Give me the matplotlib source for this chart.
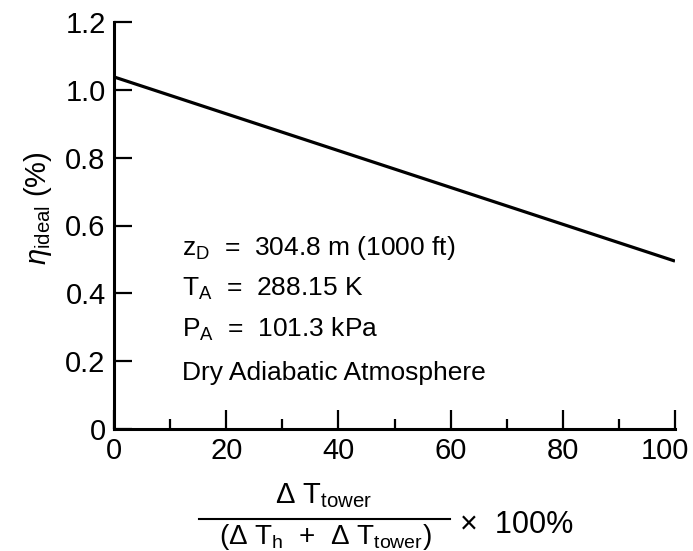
import matplotlib
matplotlib.use("Agg")
import matplotlib.pyplot as plt
from matplotlib.lines import Line2D
from matplotlib.transforms import ScaledTranslation

plt.rcParams['font.family'] = ['Liberation Sans', 'DejaVu Sans']
plt.rcParams['mathtext.fontset'] = 'custom'
plt.rcParams['mathtext.rm'] = 'Liberation Sans'
plt.rcParams['mathtext.it'] = 'Liberation Sans:italic'
plt.rcParams['mathtext.bf'] = 'Liberation Sans:bold'

# Data
x_vals = [0, 100]
eta_vals = [1.038, 0.495]
x_ticks = [0, 20, 40, 60, 80, 100]
x_minor = [10, 30, 50, 70, 90]
y_ticks = [0, 0.2, 0.4, 0.6, 0.8, 1.0, 1.2]
y_labels = ["0", "0.2", "0.4", "0.6", "0.8", "1.0", "1.2"]
notes = [r"z$_\mathrm{D}$  =  304.8 m (1000 ft)",
         r"T$_\mathrm{A}$  =  288.15 K",
         r"P$_\mathrm{A}$  =  101.3 kPa",
         "Dry Adiabatic Atmosphere"]

W, H = 693, 551
fig = plt.figure(figsize=(W / 100, H / 100), dpi=100)
ax = fig.add_axes([114 / W, 1 - 429 / H, (675 - 114) / W, (429 - 22) / H])

ax.plot(x_vals, eta_vals, color='black', lw=2.3, solid_capstyle='butt')
ax.set_xlim(0, 100)
ax.set_ylim(0, 1.2)
for s in ['top', 'right']:
    ax.spines[s].set_visible(False)
for s in ['left', 'bottom']:
    ax.spines[s].set_linewidth(2.2)

ax.set_xticks(x_ticks)
ax.set_xticks(x_minor, minor=True)
ax.set_yticks(y_ticks)
ax.set_yticklabels(y_labels)
ax.tick_params(axis='both', which='major', direction='in', width=1.6, labelsize=21)
ax.tick_params(axis='x', which='major', length=14, pad=6)
ax.tick_params(axis='y', which='major', length=13, pad=6)
ax.tick_params(axis='x', which='minor', direction='in', length=7, width=1.6)

fig.canvas.draw()
last = ax.get_xticklabels()[-1]
last.set_transform(last.get_transform() + ScaledTranslation(-10 / 100, 0, fig.dpi_scale_trans))

# annotations
baselines = [255, 296, 337, 380]
for t, yb in zip(notes, baselines):
    fig.text(182 / W, 1 - yb / H, t, fontsize=19, ha='left', va='baseline')

# y label
fig.text(38 / W, 1 - 208 / H, r"$\eta_{\mathrm{ideal}}$ (%)", rotation=90,
         fontsize=21, ha='center', va='center')

# x label as fraction
fig.text(324 / W, 1 - 503 / H, r"Δ T$_\mathrm{tower}$", fontsize=21,
         ha='center', va='baseline')
fig.add_artist(Line2D([199 / W, 450 / W], [1 - 519 / H, 1 - 519 / H],
                      transform=fig.transFigure, color='black', lw=1.5))
fig.text(325 / W, 1 - 544 / H, r"(Δ T$_\mathrm{h}$  +  Δ T$_\mathrm{tower}$)",
         fontsize=20, ha='center', va='baseline')
fig.text(460 / W, 1 - 533 / H, "×  100%", fontsize=22, ha='left', va='baseline')

fig.savefig("out.png", dpi=100)
